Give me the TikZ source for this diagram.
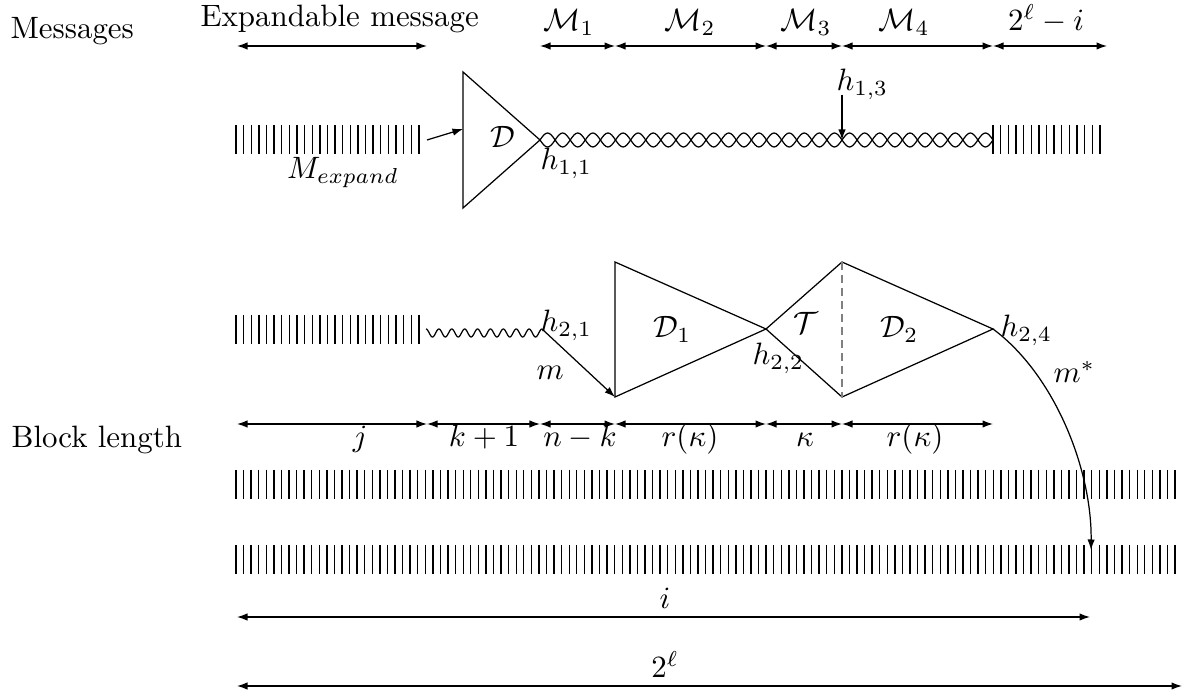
\documentclass[tikz,border=0pt]{standalone}
\usetikzlibrary{arrows.meta}
\begin{document}
\begin{tikzpicture}[x=0.3235pt,y=-0.3235pt,
  tip/.tip={Latex[length=3.4pt,width=2.4pt]},
  dim/.style={tip-tip},
  arr/.style={-tip},
  lw/.style={inner sep=0pt,anchor=base west},
  lc/.style={inner sep=0pt,anchor=base},
  tick/.style={line width=0.45pt}]
\useasboundingbox (0,0) rectangle (1187,695);

% ---------- labels on the left
\node[lw] (msg) at (10,39) {Messages};
\node[lw] (blk) at (11,448) {Block length};

% ---------- top dimension arrows
\coordinate (e0) at (237,46); \coordinate (e1) at (427,46);
\coordinate (m0) at (540,46); \coordinate (m1) at (615,46);
\coordinate (m2) at (766,46); \coordinate (m3) at (842,46);
\coordinate (m4) at (993,46); \coordinate (m5) at (1107,46);
\draw[dim] (e0) -- (e1);
\draw[dim] (m0) -- (m1);
\draw[dim] (m1) -- (m2);
\draw[dim] (m2) -- (m3);
\draw[dim] (m3) -- (m4);
\draw[dim] (m4) -- (m5);
\node[lw] (exp) at (200,27) {Expandable message};
\node[lc] (M1) at (569,31) {$\mathcal{M}_1$};
\node[lc] (M2) at (690,31) {$\mathcal{M}_2$};
\node[lc] (M3) at (806,31) {$\mathcal{M}_3$};
\node[lc] (M4) at (904,31) {$\mathcal{M}_4$};
\node[lc] (M5) at (1046,31) {$2^\ell-i$};

% ---------- first message row
\foreach \n in {0,...,24} \draw[tick] (236+7.62*\n,125) -- ++(0,29);
\foreach \n in {0,...,14} \draw[tick] (993+7.64*\n,125) -- ++(0,29);
\coordinate (Dl1) at (463,72); \coordinate (Dl2) at (463,208);
\coordinate (h11) at (540,140);
\draw (Dl1) -- (h11) -- (Dl2) -- cycle;
\coordinate (ea) at (427,140); \coordinate (eb) at (463,129);
\draw[arr] (ea) -- (eb);
\draw plot[domain=0:30,samples=241,smooth] ({540+15.1*\x},{140+7*sin(180*\x)});
\draw plot[domain=0:30,samples=241,smooth] ({540+15.1*\x},{140-7*sin(180*\x)});
\coordinate (h13a) at (842,95); \coordinate (h13) at (842,140);
\draw[arr] (h13a) -- (h13);
\node[lc] (Dlab) at (503,148) {$\mathcal{D}$};
\node[lc] (Mex) at (343,179) {$M_{expand}$};
\node[lw] (h11l) at (540,170) {$h_{1,1}$};
\node[lw] (h13l) at (836,91) {$h_{1,3}$};

% ---------- second message row
\foreach \n in {0,...,24} \draw[tick] (236+7.62*\n,315) -- ++(0,29);
\draw plot[domain=0:9,samples=181,smooth] ({426+12.89*\x},{333-4*cos(360*\x)});
\coordinate (h21) at (542,329);
\coordinate (D1t) at (615,262); \coordinate (D1b) at (615,397);
\coordinate (h22) at (766,329);
\coordinate (Tt) at (842,262); \coordinate (Tb) at (842,397);
\coordinate (h24) at (993,329);
\draw[arr] (h21) -- (D1b);
\draw (D1t) -- (h22) -- (D1b) -- cycle;
\draw (h22) -- (Tt) -- (h24) -- (Tb) -- cycle;
\draw[gray,dash pattern=on 2.6pt off 1.6pt] (Tt) -- (Tb);
\coordinate (mstar) at (1091,550);
\draw[arr] (h24) .. controls (1055,375) and (1092,470) .. (mstar);
\node[lw] (h21l) at (540,332) {$h_{2,1}$};
\node[lw] (ml) at (536,380) {$m$};
\node[lw] (D1l) at (653,338) {$\mathcal{D}_1$};
\node[lw] (h22l) at (752,365) {$h_{2,2}$};
\node[lw] (Tl) at (793,334) {$\mathcal{T}$};
\node[lw] (D2l) at (880,338) {$\mathcal{D}_2$};
\node[lw] (h24l) at (1000,337) {$h_{2,4}$};
\node[lw] (msl) at (1053,383) {$m^*$};

% ---------- block length
\coordinate (b0) at (237,424); \coordinate (b1) at (427,424);
\coordinate (b2) at (540,424); \coordinate (b3) at (615,424);
\coordinate (b4) at (766,424); \coordinate (b5) at (842,424);
\coordinate (b6) at (993,424);
\draw[dim] (b0) -- (b1);
\draw[dim] (b1) -- (b2);
\draw[dim] (b2) -- (b3);
\draw[dim] (b3) -- (b4);
\draw[dim] (b4) -- (b5);
\draw[dim] (b5) -- (b6);
\node[lc] (jl) at (360,447) {$j$};
\node[lc] (k1) at (484,447) {$k+1$};
\node[lc] (nk) at (580,447) {$n-k$};
\node[lc] (r1) at (690,447) {$r(\kappa)$};
\node[lc] (ka) at (805,447) {$\kappa$};
\node[lc] (r2) at (915,447) {$r(\kappa)$};

\foreach \n in {0,...,124} \draw[tick] (236+7.573*\n,470) -- ++(0,29);
\foreach \n in {0,...,124} \draw[tick] (236+7.573*\n,545) -- ++(0,29);

\coordinate (i0) at (237,617); \coordinate (i1) at (1090,617);
\draw[dim] (i0) -- (i1);
\node[lc] (il) at (665,609) {$i$};
\coordinate (l0) at (237,686); \coordinate (l1) at (1182,686);
\draw[dim] (l0) -- (l1);
\node[lc] (ll) at (665,678) {$2^\ell$};
\end{tikzpicture}
\end{document}
